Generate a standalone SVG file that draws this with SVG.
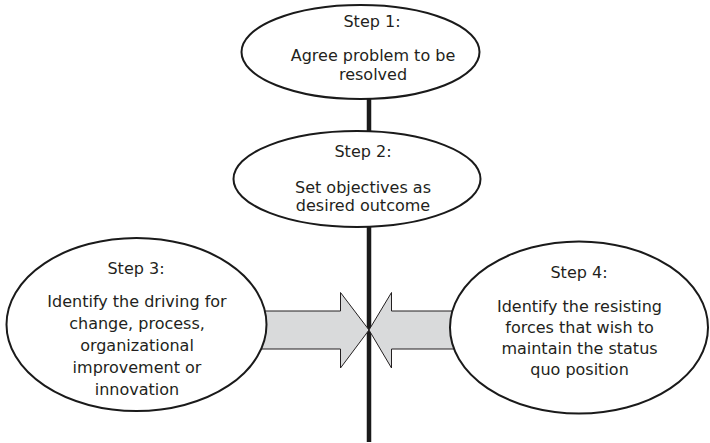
<svg xmlns="http://www.w3.org/2000/svg" width="710" height="443" viewBox="0 0 710 443">
<style>
.node ellipse{fill:#fff;stroke:#1a1a1a;stroke-width:2}
.node text{font-family:"DejaVu Sans",Verdana,sans-serif;font-size:16px;fill:#231f20;text-anchor:middle}
.arrow{fill:#d9dadb;stroke:#231f20;stroke-width:1}
.axis{stroke:#1a1a1a;stroke-width:4.5;fill:none}
</style>
<rect width="710" height="443" fill="#fff"/>
<g id="connectors">
<line class="axis" x1="369" y1="95" x2="369" y2="442"/>
<polygon class="arrow" points="250,311 340.5,311 340.5,292.5 369,330 340.5,368 340.5,349 250,349"/>
<polygon class="arrow" points="470,311 391.5,311 391.5,292.5 369,330 391.5,368 391.5,349 470,349"/>
</g>
<g id="step1" class="node">
<ellipse cx="360.5" cy="52" rx="119" ry="47"/>
<text x="372" y="27">Step 1:</text>
<text x="373" y="61">Agree problem to be</text>
<text x="373" y="79.5">resolved</text>
</g>
<g id="step2" class="node">
<ellipse cx="357" cy="179" rx="123.5" ry="48"/>
<text x="363" y="157">Step 2:</text>
<text x="363" y="193">Set objectives as</text>
<text x="363" y="211">desired outcome</text>
</g>
<g id="step3" class="node">
<ellipse cx="136.5" cy="324.5" rx="130" ry="86.5"/>
<text x="136" y="274">Step 3:</text>
<text x="137" y="306.5">Identify the driving for</text>
<text x="137" y="328.5">change, process,</text>
<text x="137" y="350.5">organizational</text>
<text x="137" y="372.5">improvement or</text>
<text x="137" y="394.5">innovation</text>
</g>
<g id="step4" class="node">
<ellipse cx="579" cy="327.5" rx="129" ry="86"/>
<text x="579" y="278">Step 4:</text>
<text x="579.5" y="311.5">Identify the resisting</text>
<text x="579.5" y="332.5">forces that wish to</text>
<text x="579.5" y="354">maintain the status</text>
<text x="579.5" y="375">quo position</text>
</g>
</svg>
